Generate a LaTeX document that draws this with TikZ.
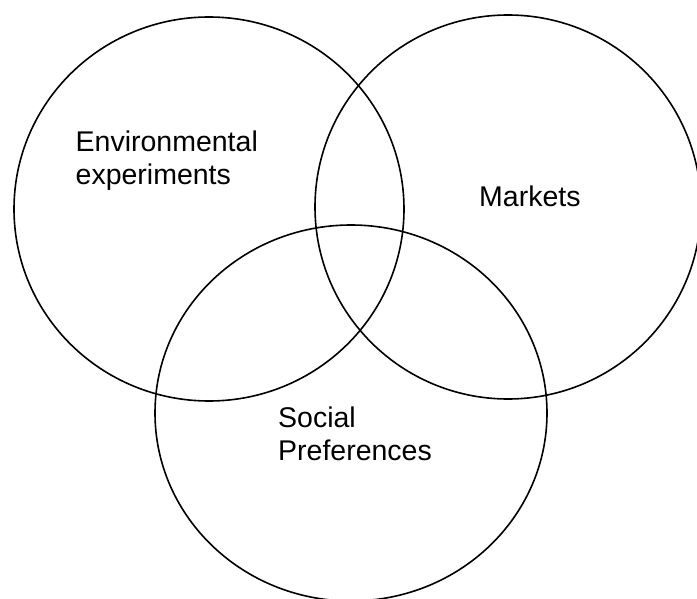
\documentclass[tikz,border=0pt]{standalone}
\usepackage{fontspec}
\setmainfont{Liberation Sans}
\tikzset{
  venn/.style={draw=black, line width=1.6pt},
  lbl/.style={align=left, inner sep=0pt, font=\fontsize{28.5}{33}\selectfont}
}
\begin{document}
\begin{tikzpicture}[x=1pt,y=-1pt]
\useasboundingbox (0,0) rectangle (697,599);
\draw[venn] (209,209) ellipse [x radius=195, y radius=192];
\draw[venn] (508,207) ellipse [x radius=193, y radius=192];
\draw[venn] (351,413) ellipse [x radius=196, y radius=188];
\node[lbl, anchor=base west] (env) at (75.5,184.5) {Environmental\\experiments};
\node[lbl, anchor=base west] (mkt) at (479,207) {Markets};
\node[lbl, anchor=base west] (soc) at (278,460.5) {Social\\Preferences};
\end{tikzpicture}
\end{document}
